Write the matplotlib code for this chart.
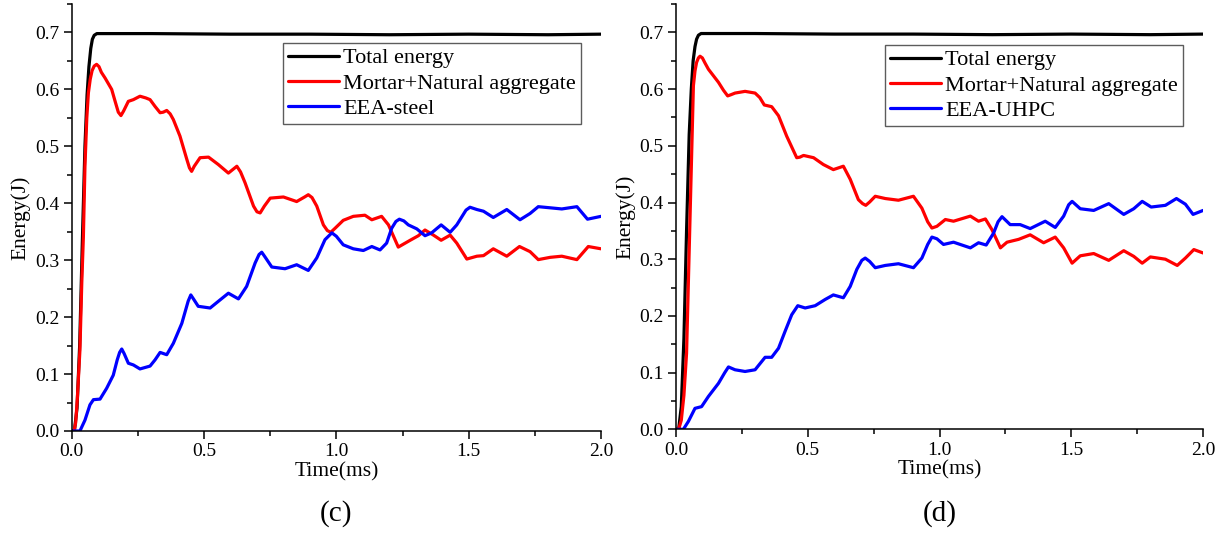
import matplotlib
matplotlib.use("Agg")
import matplotlib.pyplot as plt
from matplotlib.ticker import MultipleLocator, FormatStrFormatter

plt.rcParams['font.family'] = ['Liberation Serif', 'DejaVu Serif']

# ---------------- (c) EEA-steel ----------------
t_total_c = [0.0, 0.01, 0.02, 0.03, 0.04, 0.05, 0.058, 0.065, 0.072, 0.078, 0.085,
             0.095, 0.3, 0.6, 0.9, 1.2, 1.5, 1.8, 2.0]
e_total_c = [0.0, 0.0, 0.04, 0.15, 0.33, 0.50, 0.59, 0.64, 0.672, 0.688, 0.695,
             0.698, 0.698, 0.697, 0.697, 0.696, 0.697, 0.696, 0.697]

t_mortar_c = [0.0, 0.009, 0.015, 0.021, 0.031, 0.038, 0.044, 0.050, 0.057, 0.063,
              0.070, 0.077, 0.085, 0.094, 0.103, 0.112, 0.126, 0.151, 0.164, 0.176,
              0.186, 0.196, 0.214, 0.233, 0.258, 0.280, 0.296, 0.315, 0.334, 0.346,
              0.359, 0.372, 0.384, 0.409, 0.435, 0.445, 0.453, 0.463, 0.485, 0.517,
              0.554, 0.592, 0.608, 0.624, 0.638, 0.655, 0.687, 0.700, 0.712, 0.728,
              0.750, 0.800, 0.850, 0.880, 0.894, 0.908, 0.926, 0.951, 0.966, 0.979,
              0.995, 1.026, 1.064, 1.108, 1.134, 1.171, 1.197, 1.234, 1.279, 1.310,
              1.335, 1.367, 1.396, 1.430, 1.455, 1.493, 1.531, 1.556, 1.593, 1.644,
              1.692, 1.732, 1.763, 1.808, 1.852, 1.909, 1.952, 2.0]
e_mortar_c = [0.0, 0.0, 0.015, 0.055, 0.142, 0.26, 0.34, 0.465, 0.55, 0.594,
              0.618, 0.633, 0.641, 0.644, 0.640, 0.630, 0.620, 0.600, 0.579, 0.560,
              0.554, 0.562, 0.579, 0.582, 0.588, 0.585, 0.582, 0.570, 0.559, 0.560,
              0.563, 0.557, 0.547, 0.518, 0.477, 0.462, 0.456, 0.465, 0.480, 0.481,
              0.468, 0.453, 0.459, 0.465, 0.455, 0.436, 0.395, 0.385, 0.383, 0.395,
              0.409, 0.411, 0.403, 0.411, 0.415, 0.410, 0.395, 0.362, 0.352, 0.349,
              0.356, 0.370, 0.377, 0.379, 0.371, 0.377, 0.362, 0.323, 0.335, 0.343,
              0.353, 0.344, 0.335, 0.344, 0.330, 0.302, 0.307, 0.308, 0.320, 0.307,
              0.324, 0.315, 0.301, 0.305, 0.307, 0.301, 0.324, 0.320]

t_eea_c = [0.0, 0.031, 0.050, 0.069, 0.082, 0.107, 0.132, 0.157, 0.172, 0.181,
           0.189, 0.198, 0.214, 0.233, 0.258, 0.296, 0.315, 0.334, 0.359, 0.384,
           0.416, 0.440, 0.450, 0.460, 0.478, 0.523, 0.560, 0.592, 0.630, 0.661,
           0.693, 0.708, 0.718, 0.730, 0.756, 0.806, 0.850, 0.894, 0.926, 0.957,
           0.983, 1.000, 1.026, 1.064, 1.102, 1.134, 1.165, 1.190, 1.209, 1.225,
           1.238, 1.255, 1.272, 1.304, 1.335, 1.360, 1.396, 1.430, 1.455, 1.490,
           1.505, 1.531, 1.556, 1.593, 1.644, 1.694, 1.732, 1.763, 1.808, 1.852,
           1.909, 1.949, 2.0]
e_eea_c = [0.0, 0.0, 0.019, 0.046, 0.055, 0.056, 0.075, 0.098, 0.125, 0.138,
           0.144, 0.136, 0.119, 0.116, 0.109, 0.114, 0.125, 0.138, 0.134, 0.154,
           0.189, 0.228, 0.239, 0.232, 0.219, 0.216, 0.230, 0.242, 0.232, 0.254,
           0.295, 0.310, 0.314, 0.306, 0.288, 0.285, 0.292, 0.282, 0.304, 0.336,
           0.348, 0.342, 0.327, 0.320, 0.317, 0.324, 0.318, 0.330, 0.356, 0.368,
           0.372, 0.369, 0.362, 0.355, 0.343, 0.348, 0.362, 0.349, 0.362, 0.388,
           0.393, 0.389, 0.386, 0.375, 0.389, 0.371, 0.382, 0.394, 0.392, 0.390,
           0.394, 0.372, 0.377]

# ---------------- (d) EEA-UHPC ----------------
t_total_d = [0.0, 0.01, 0.02, 0.03, 0.04, 0.05, 0.058, 0.065, 0.072, 0.078, 0.085,
             0.095, 0.3, 0.6, 0.9, 1.2, 1.5, 1.8, 2.0]
e_total_d = [0.0, 0.0, 0.04, 0.16, 0.35, 0.52, 0.60, 0.65, 0.675, 0.688, 0.695,
             0.698, 0.698, 0.697, 0.697, 0.696, 0.697, 0.696, 0.697]

t_mortar_d = [0.0, 0.01, 0.02, 0.03, 0.04, 0.053, 0.066, 0.072, 0.078, 0.085, 0.091,
              0.100, 0.110, 0.123, 0.161, 0.180, 0.196, 0.208, 0.224, 0.262, 0.300,
              0.318, 0.335, 0.363, 0.389, 0.420, 0.458, 0.470, 0.484, 0.522, 0.559,
              0.597, 0.635, 0.661, 0.692, 0.708, 0.720, 0.735, 0.756, 0.794, 0.844,
              0.901, 0.933, 0.955, 0.971, 0.990, 1.022, 1.053, 1.117, 1.148, 1.174,
              1.199, 1.231, 1.256, 1.300, 1.344, 1.395, 1.439, 1.471, 1.503, 1.534,
              1.585, 1.642, 1.699, 1.737, 1.769, 1.800, 1.857, 1.902, 1.933, 1.965,
              2.0]
e_mortar_d = [0.0, 0.0, 0.016, 0.06, 0.134, 0.37, 0.606, 0.632, 0.647, 0.655, 0.658,
              0.655, 0.646, 0.635, 0.612, 0.598, 0.588, 0.590, 0.593, 0.596, 0.593,
              0.585, 0.572, 0.569, 0.553, 0.517, 0.479, 0.480, 0.483, 0.479, 0.467,
              0.458, 0.464, 0.441, 0.405, 0.398, 0.395, 0.401, 0.411, 0.407, 0.404,
              0.411, 0.390, 0.366, 0.355, 0.358, 0.370, 0.367, 0.376, 0.367, 0.371,
              0.352, 0.320, 0.330, 0.335, 0.343, 0.329, 0.339, 0.320, 0.293, 0.306,
              0.310, 0.298, 0.315, 0.305, 0.293, 0.304, 0.300, 0.289, 0.302, 0.317,
              0.311]

t_eea_d = [0.0, 0.028, 0.047, 0.072, 0.097, 0.123, 0.161, 0.185, 0.199, 0.224, 0.262,
           0.300, 0.338, 0.363, 0.389, 0.414, 0.439, 0.462, 0.490, 0.528, 0.566,
           0.597, 0.635, 0.661, 0.686, 0.705, 0.718, 0.735, 0.756, 0.794, 0.844,
           0.901, 0.933, 0.955, 0.971, 0.990, 1.015, 1.053, 1.117, 1.148, 1.177,
           1.205, 1.222, 1.237, 1.268, 1.306, 1.344, 1.401, 1.439, 1.471, 1.490,
           1.503, 1.534, 1.585, 1.642, 1.699, 1.737, 1.769, 1.803, 1.857, 1.899,
           1.933, 1.962, 2.0]
e_eea_d = [0.0, 0.0, 0.014, 0.037, 0.040, 0.058, 0.081, 0.100, 0.110, 0.105, 0.102,
           0.105, 0.127, 0.127, 0.143, 0.173, 0.202, 0.218, 0.214, 0.218, 0.229,
           0.237, 0.232, 0.252, 0.282, 0.298, 0.302, 0.296, 0.285, 0.289, 0.292,
           0.285, 0.302, 0.326, 0.339, 0.336, 0.326, 0.330, 0.320, 0.329, 0.325,
           0.346, 0.366, 0.375, 0.361, 0.361, 0.354, 0.367, 0.356, 0.376, 0.396,
           0.402, 0.389, 0.386, 0.398, 0.379, 0.389, 0.402, 0.392, 0.395, 0.407,
           0.397, 0.379, 0.386]

panels = [
    dict(rect=[0.0585, 0.2004, 0.4317, 0.7922], tag="(c)", leg_anchor=(0.962, 0.909),
         total=(t_total_c, e_total_c), mortar=(t_mortar_c, e_mortar_c),
         eea=(t_eea_c, e_eea_c), eea_name="EEA-steel"),
    dict(rect=[0.5514, 0.2035, 0.4299, 0.7890], tag="(d)", leg_anchor=(0.962, 0.904),
         total=(t_total_d, e_total_d), mortar=(t_mortar_d, e_mortar_d),
         eea=(t_eea_d, e_eea_d), eea_name="EEA-UHPC"),
]

fig = plt.figure(figsize=(12.26, 5.39), dpi=100)
lw = 2.3
style = dict(lw=lw, solid_joinstyle="round", solid_capstyle="round")
for p in panels:
    ax = fig.add_axes(p["rect"])
    ax.plot(*p["total"], color="black", label="Total energy", **style)
    ax.plot(*p["mortar"], color="red", label="Mortar+Natural aggregate", **style)
    ax.plot(*p["eea"], color="blue", label=p["eea_name"], **style)
    ax.set_xlim(0, 2.0)
    ax.set_ylim(0, 0.75)
    for s in ("top", "right"):
        ax.spines[s].set_visible(False)
    for s in ("left", "bottom"):
        ax.spines[s].set_linewidth(1.1)
    ax.xaxis.set_major_locator(MultipleLocator(0.5))
    ax.xaxis.set_minor_locator(MultipleLocator(0.25))
    ax.yaxis.set_major_locator(MultipleLocator(0.1))
    ax.yaxis.set_minor_locator(MultipleLocator(0.05))
    ax.xaxis.set_major_formatter(FormatStrFormatter("%.1f"))
    ax.yaxis.set_major_formatter(FormatStrFormatter("%.1f"))
    ax.tick_params(which="major", direction="out", length=6, width=1.1,
                   labelsize=14, pad=3)
    ax.tick_params(which="minor", direction="out", length=3.5, width=1.1)
    ax.set_xlabel("Time(ms)", fontsize=15.5, labelpad=1)
    ax.set_ylabel("Energy(J)", fontsize=15.5, labelpad=3)
    leg = ax.legend(loc="upper right", bbox_to_anchor=p["leg_anchor"],
                    fontsize=16, frameon=True, fancybox=False, shadow=False,
                    handlelength=2.3, handletextpad=0.2, borderpad=0.22,
                    labelspacing=0.22, borderaxespad=0.0)
    leg.get_frame().set_edgecolor("#333333")
    leg.get_frame().set_linewidth(1.0)
    x0, y0, w, h = p["rect"]
    fig.text(x0 + w / 2, 0.048, p["tag"], ha="center", va="center", fontsize=21)

fig.savefig("out.png", dpi=100)
